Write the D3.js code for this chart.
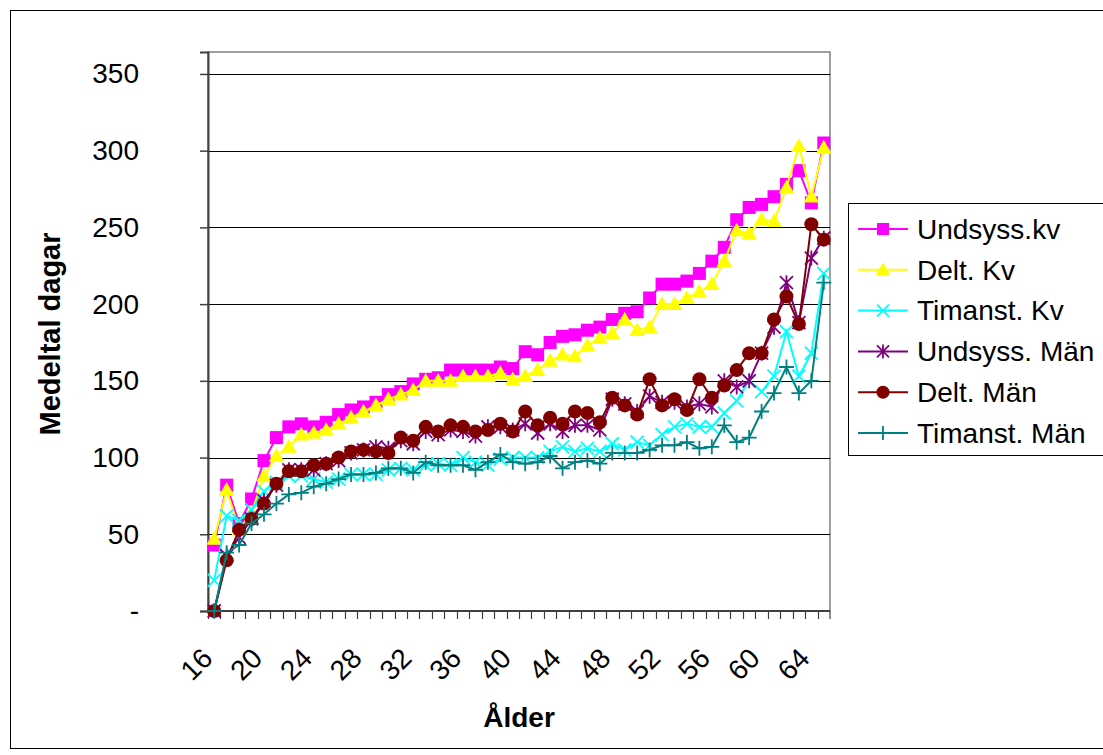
<!DOCTYPE html>
<html>
<head>
<meta charset="utf-8">
<script src="https://cdn.jsdelivr.net/npm/d3@7"></script>
<style>
  body { margin: 0; background: #fff; }
  svg { font-family: "Liberation Sans", Arial, sans-serif; }
</style>
</head>
<body>
<div id="chart"></div>
<script>

// Ages 16..65
const ages = d3.range(16, 66);
const tickAges = [16, 20, 24, 28, 32, 36, 40, 44, 48, 52, 56, 60, 64];
const yTicks = [0, 50, 100, 150, 200, 250, 300, 350];

const seriesNames = ["Undsyss.kv", "Delt. Kv", "Timanst. Kv", "Undsyss. Män", "Delt. Män", "Timanst. Män"];

const undsyssKv = [43, 82, 57, 73, 98, 113, 120, 122, 120, 123, 128, 131, 133, 136, 141, 143, 148, 151, 152, 157,
    157, 157, 157, 159, 158, 169, 167, 175, 179, 180, 183, 185, 190, 194, 195, 204, 213, 213, 215, 220,
    228, 237, 255, 263, 265, 270, 278, 287, 266, 305];
const deltKv = [47, 79, 53, 64, 88, 101, 107, 115, 116, 118, 122, 126, 130, 134, 138, 141, 144, 150, 150, 150,
    153, 153, 153, 155, 151, 153, 157, 163, 167, 166, 173, 178, 181, 190, 183, 185, 200, 200, 204, 208,
    213, 228, 248, 246, 255, 254, 276, 303, 270, 302];
const timanstKv = [20, 62, 59, 66, 78, 84, 88, 88, 86, 84, 86, 89, 89, 89, 92, 93, 92, 95, 96, 95,
    100, 97, 95, 99, 100, 100, 100, 104, 107, 104, 106, 104, 109, 105, 110, 108, 115, 120, 122, 120,
    120, 129, 137, 150, 143, 153, 182, 153, 168, 220];
const undsyssMan = [0, 36, 48, 60, 72, 82, 92, 92, 92, 96, 98, 103, 105, 107, 106, 111, 109, 117, 115, 118,
    117, 114, 120, 120, 118, 122, 116, 122, 117, 121, 121, 118, 138, 135, 130, 140, 136, 136, 133, 135,
    133, 150, 146, 150, 168, 185, 214, 188, 230, 243];
const deltMan = [0, 33, 53, 60, 70, 83, 91, 91, 95, 96, 100, 104, 105, 104, 103, 113, 111, 120, 117, 121,
    120, 117, 118, 122, 117, 130, 121, 126, 122, 130, 129, 123, 139, 134, 128, 151, 134, 138, 131, 151,
    139, 147, 157, 168, 168, 190, 205, 187, 252, 242];
const timanstMan = [0, 38, 43, 57, 63, 70, 76, 77, 81, 83, 86, 89, 89, 90, 93, 93, 90, 97, 95, 95,
    95, 92, 97, 102, 97, 96, 97, 101, 93, 97, 98, 96, 103, 103, 103, 105, 108, 108, 110, 106,
    107, 121, 110, 113, 130, 142, 159, 142, 150, 214];

const seriesValues = [undsyssKv, deltKv, timanstKv, undsyssMan, deltMan, timanstMan];
const colors = ["#ff00ff", "#ffff00", "#00ffff", "#800080", "#800000", "#008080"];
const markers = ["square", "triangle", "x", "star", "circle", "plus"];

const W = 1103, H = 755;
const plot = {left: 208, right: 830, top: 52, bottom: 611};

const svg = d3.select("#chart").append("svg")
    .attr("width", W).attr("height", H);

// Outer chart border
svg.append("rect")
    .attr("x", 10.5).attr("y", 10.5)
    .attr("width", W).attr("height", 738)
    .attr("fill", "#fff").attr("stroke", "#000").attr("stroke-width", 1);

const x = d3.scaleBand().domain(ages).range([plot.left, plot.right]);
const y = d3.scaleLinear().domain([0, 364.3]).range([plot.bottom, plot.top]);

// Plot area border
svg.append("rect")
    .attr("x", plot.left).attr("y", plot.top)
    .attr("width", plot.right - plot.left).attr("height", plot.bottom - plot.top)
    .attr("fill", "#fff").attr("stroke", "#808080").attr("stroke-width", 1.5);

// Gridlines
svg.append("g")
    .selectAll("line")
    .data(yTicks.filter(d => d > 0))
    .enter().append("line")
        .attr("x1", plot.left).attr("x2", plot.right)
        .attr("y1", d => Math.round(y(d)) + 0.5)
        .attr("y2", d => Math.round(y(d)) + 0.5)
        .attr("stroke", "#000").attr("stroke-width", 1);

// Y axis
const yAxis = svg.append("g")
    .attr("transform", "translate(" + plot.left + ",0)")
    .call(d3.axisLeft(y).tickValues(yTicks).tickSize(8).tickPadding(61)
        .tickFormat(d => d === 0 ? "-" : d));
yAxis.select(".domain").attr("stroke", "#404040").attr("stroke-width", 2);
yAxis.selectAll(".tick line").attr("stroke", "#404040").attr("stroke-width", 1.5);
yAxis.selectAll(".tick text")
    .attr("font-size", 28).attr("fill", "#000")
    .attr("font-family", "Liberation Sans, Arial, sans-serif");

// X axis: ticks between categories
const xg = svg.append("g");
xg.append("line")
    .attr("x1", plot.left).attr("x2", plot.right)
    .attr("y1", plot.bottom).attr("y2", plot.bottom)
    .attr("stroke", "#404040").attr("stroke-width", 2);
xg.selectAll("line.tk")
    .data(ages.concat([66]))
    .enter().append("line")
        .attr("class", "tk")
        .attr("x1", d => d === 66 ? plot.right : Math.round(x(d)) + 0.5)
        .attr("x2", d => d === 66 ? plot.right : Math.round(x(d)) + 0.5)
        .attr("y1", plot.bottom).attr("y2", plot.bottom + 8)
        .attr("stroke", "#404040").attr("stroke-width", 1.2);
xg.selectAll("text")
    .data(tickAges)
    .enter().append("text")
        .attr("transform", d => "translate(" + (x(d) + x.bandwidth() / 2 - 7) + "," + (plot.bottom + 42) + ") rotate(-45)")
        .attr("text-anchor", "end")
        .attr("dy", "0.35em")
        .attr("font-size", 28)
        .text(d => d);

// Axis titles
svg.append("text")
    .attr("x", 519).attr("y", 727)
    .attr("text-anchor", "middle")
    .attr("font-size", 28).attr("font-weight", "bold")
    .text("Ålder");
svg.append("text")
    .attr("transform", "translate(60,334) rotate(-90)")
    .attr("text-anchor", "middle")
    .attr("font-size", 29).attr("font-weight", "bold")
    .text("Medeltal dagar");

// Marker drawing
function drawMarker(g, type, color, size) {
    const s = size;
    if (type === "square") {
        g.append("rect").attr("x", -s / 2).attr("y", -s / 2).attr("width", s).attr("height", s)
            .attr("fill", color);
    } else if (type === "triangle") {
        g.append("path").attr("d", "M0," + (-s * 0.6) + "L" + (s * 0.6) + "," + (s * 0.45) + "L" + (-s * 0.6) + "," + (s * 0.45) + "Z")
            .attr("fill", color);
    } else if (type === "circle") {
        g.append("circle").attr("r", s / 2 + 0.5).attr("fill", color);
    } else if (type === "x") {
        const h = s / 2;
        g.append("path").attr("d", "M" + (-h) + "," + (-h) + "L" + h + "," + h + "M" + (-h) + "," + h + "L" + h + "," + (-h))
            .attr("stroke", color).attr("stroke-width", 1.8).attr("fill", "none");
    } else if (type === "star") {
        const h = s / 2;
        g.append("path").attr("d", "M" + (-h) + "," + (-h) + "L" + h + "," + h + "M" + (-h) + "," + h + "L" + h + "," + (-h) + "M0," + (-h - 1) + "L0," + (h + 1))
            .attr("stroke", color).attr("stroke-width", 1.8).attr("fill", "none");
    } else if (type === "plus") {
        const h = s / 2 + 1;
        g.append("path").attr("d", "M" + (-h) + ",0L" + h + ",0M0," + (-h) + "L0," + h)
            .attr("stroke", color).attr("stroke-width", 1.8).attr("fill", "none");
    }
}

const line = d3.line()
    .x((d, i) => x(ages[i]) + x.bandwidth() / 2)
    .y(d => y(d));

seriesValues.forEach((vals, si) => {
    const g = svg.append("g").attr("class", "series");
    g.append("path")
        .attr("d", line(vals))
        .attr("fill", "none")
        .attr("stroke", colors[si])
        .attr("stroke-width", 2);
    vals.forEach((v, i) => {
        const mg = g.append("g")
            .attr("transform", "translate(" + (x(ages[i]) + x.bandwidth() / 2) + "," + y(v) + ")");
        drawMarker(mg, markers[si], colors[si], 13);
    });
});

// Legend
const legend = svg.append("g");
legend.append("rect")
    .attr("x", 848.5).attr("y", 203.5)
    .attr("width", 270).attr("height", 252)
    .attr("fill", "#fff").attr("stroke", "#000").attr("stroke-width", 1);
seriesNames.forEach((name, i) => {
    const ly = 229 + i * 40.8;
    const lg = legend.append("g");
    lg.append("line")
        .attr("x1", 858).attr("x2", 908)
        .attr("y1", ly).attr("y2", ly)
        .attr("stroke", colors[i]).attr("stroke-width", 2);
    const mg = lg.append("g").attr("transform", "translate(883," + ly + ")");
    drawMarker(mg, markers[i], colors[i], 12);
    lg.append("text")
        .attr("x", 917).attr("y", ly)
        .attr("dy", "0.35em")
        .attr("font-size", 28)
        .text(name);
});

</script>
</body>
</html>
